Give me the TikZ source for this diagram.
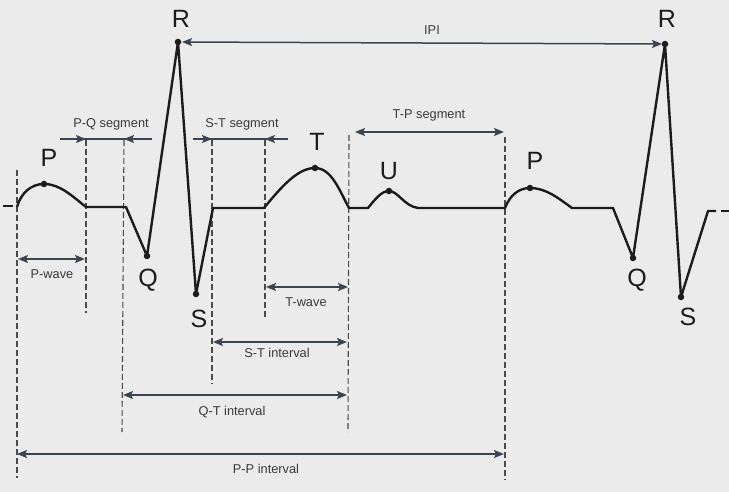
\documentclass[tikz,border=0pt]{standalone}
\usepackage{fontspec}
\setmainfont{Liberation Sans}
\usetikzlibrary{arrows.meta}
\definecolor{bg}{HTML}{EBEBEB}
\definecolor{wave}{HTML}{1C1C1C}
\definecolor{dim}{HTML}{3A4550}
\definecolor{dsh}{HTML}{4A4A4A}
\definecolor{lbl}{HTML}{3A3A3A}
\begin{document}
\begin{tikzpicture}[x=1pt,y=-1pt,
  wavestyle/.style={draw=wave,line width=2.4pt,line join=round},
  dotstyle/.style={circle,fill=wave,inner sep=0pt,minimum size=6.5pt},
  bigletter/.style={font=\fontsize{25}{25}\selectfont,text=wave,anchor=base,inner sep=0pt},
  smalllabel/.style={font=\fontsize{12.8}{13}\selectfont,text=lbl,anchor=base,inner sep=0pt},
  guide/.style={draw=dsh,line width=1.1pt,dash pattern=on 6pt off 3pt},
  dimarrow/.style={draw=dim,line width=1.5pt,{Stealth[length=10pt,width=8pt,inset=2pt]}-{Stealth[length=10pt,width=8pt,inset=2pt]}},
  onearrow/.style={draw=dim,line width=1.5pt,-{Stealth[length=10pt,width=8pt,inset=2pt]}},
  dimline/.style={draw=dim,line width=1.5pt}]
\fill[bg] (0,0) rectangle (729,492);
\useasboundingbox (0,0) rectangle (729,492);

% ---- waveform key points
\coordinate (p0) at (17,207);
\coordinate (Ppk) at (44,184);
\coordinate (p1) at (86,207);
\coordinate (q0) at (126,207);
\coordinate (Q1) at (147,256);
\coordinate (R1) at (178,42);
\coordinate (S1) at (196,294);
\coordinate (s0) at (213,208);
\coordinate (t0) at (264,208);
\coordinate (Tpk) at (315,168);
\coordinate (t1) at (349,208);
\coordinate (u0) at (368,208);
\coordinate (Upk) at (389,191);
\coordinate (u1) at (418,208);
\coordinate (p2s) at (505,208);
\coordinate (P2pk) at (530,188);
\coordinate (p2e) at (572,208);
\coordinate (q2) at (613,208);
\coordinate (Q2) at (633,258);
\coordinate (R2) at (665,44);
\coordinate (S2) at (681,297);
\coordinate (e0) at (708,211);
\coordinate (e1) at (716,211);
\coordinate (e2) at (721,211);
\coordinate (e3) at (729,211);
\coordinate (l0) at (3,206);
\coordinate (l1) at (13,206);

% ---- dashed guides
\coordinate (g1a) at (17,170);  \coordinate (g1b) at (17,478);
\coordinate (g2a) at (86,140);  \coordinate (g2b) at (86,313);
\coordinate (g3a) at (124,140); \coordinate (g3b) at (122,432);
\coordinate (g4a) at (212,140); \coordinate (g4b) at (212,384);
\coordinate (g5a) at (265,140); \coordinate (g5b) at (265,318);
\coordinate (g6a) at (349,135); \coordinate (g6b) at (348,432);
\coordinate (g7a) at (505,137); \coordinate (g7b) at (505,480);
\foreach \g in {1,...,7} {\draw[guide] (g\g a) -- (g\g b);}

% ---- waveform
\draw[wavestyle] (l0) -- (l1);
\draw[wavestyle] (p0) .. controls (21,193) and (31,184) .. (Ppk)
  .. controls (60,184) and (72,196) .. (p1) -- (q0) -- (Q1) -- (R1) -- (S1) -- (s0) -- (t0)
  .. controls (282,186) and (298,168) .. (Tpk)
  .. controls (332,168) and (340,192) .. (t1) -- (u0)
  .. controls (376,198) and (382,191) .. (Upk)
  .. controls (398,191) and (404,206) .. (u1) -- (p2s)
  .. controls (510,195) and (519,188) .. (P2pk)
  .. controls (546,188) and (558,198) .. (p2e) -- (q2) -- (Q2) -- (R2) -- (S2) -- (e0) -- (e1);
\draw[wavestyle] (e2) -- (e3);

% ---- dots
\node[dotstyle] (dP1) at (Ppk) {};
\node[dotstyle] (dQ1) at (Q1) {};
\node[dotstyle] (dR1) at (R1) {};
\node[dotstyle] (dS1) at (S1) {};
\node[dotstyle] (dT) at (Tpk) {};
\node[dotstyle] (dU) at (Upk) {};
\node[dotstyle] (dP2) at (P2pk) {};
\node[dotstyle] (dQ2) at (Q2) {};
\node[dotstyle] (dR2) at (R2) {};
\node[dotstyle] (dS2) at (S2) {};

% ---- big letters
\node[bigletter] (lP1) at (49,167) {P};
\node[bigletter] (lQ1) at (148,287) {Q};
\node[bigletter] (lR1) at (181,28) {R};
\node[bigletter] (lS1) at (199,327) {S};
\node[bigletter] (lT) at (317,151) {T};
\node[bigletter] (lU) at (389,180) {U};
\node[bigletter] (lP2) at (535,170) {P};
\node[bigletter] (lQ2) at (637,287) {Q};
\node[bigletter] (lR2) at (667,28) {R};
\node[bigletter] (lS2) at (688,325) {S};

% ---- IPI
\draw[dimarrow,shorten <=4pt,shorten >=3pt] (dR1.center) -- (dR2.center);
\node[smalllabel] (tIPI) at (432,35) {IPI};

% ---- P-Q segment
\coordinate (pqa) at (60,139); \coordinate (pqb) at (86,139);
\coordinate (pqc) at (124,139); \coordinate (pqd) at (152,139);
\draw[dimline] (pqa) -- (pqd);
\draw[onearrow] (pqa) -- (pqb);
\draw[onearrow] (pqd) -- (pqc);
\node[smalllabel] (tPQ) at (111,128) {P-Q segment};

% ---- S-T segment
\coordinate (sta) at (193,139); \coordinate (stb) at (212,139);
\coordinate (stc) at (265,139); \coordinate (std) at (288,139);
\draw[dimline] (sta) -- (std);
\draw[onearrow] (sta) -- (stb);
\draw[onearrow] (std) -- (stc);
\node[smalllabel] (tST) at (242,128) {S-T segment};

% ---- T-P segment
\coordinate (tpa) at (355,132); \coordinate (tpb) at (504,132);
\draw[dimarrow] (tpa) -- (tpb);
\node[smalllabel] (tTP) at (429,119) {T-P segment};

% ---- P-wave, T-wave
\coordinate (pwa) at (18,259); \coordinate (pwb) at (85,259);
\draw[dimarrow] (pwa) -- (pwb);
\node[smalllabel] (tPw) at (52,279) {P-wave};
\coordinate (twa) at (266,287); \coordinate (twb) at (348,287);
\draw[dimarrow] (twa) -- (twb);
\node[smalllabel] (tTw) at (306,306) {T-wave};

% ---- intervals
\coordinate (sia) at (213,342); \coordinate (sib) at (347,342);
\draw[dimarrow] (sia) -- (sib);
\node[smalllabel] (tSI) at (277,357) {S-T interval};
\coordinate (qia) at (123,395); \coordinate (qib) at (347,395);
\draw[dimarrow] (qia) -- (qib);
\node[smalllabel] (tQI) at (232,415) {Q-T interval};
\coordinate (ppa) at (17,454); \coordinate (ppb) at (504,454);
\draw[dimarrow] (ppa) -- (ppb);
\node[smalllabel] (tPP) at (266,473) {P-P interval};
\end{tikzpicture}
\end{document}
